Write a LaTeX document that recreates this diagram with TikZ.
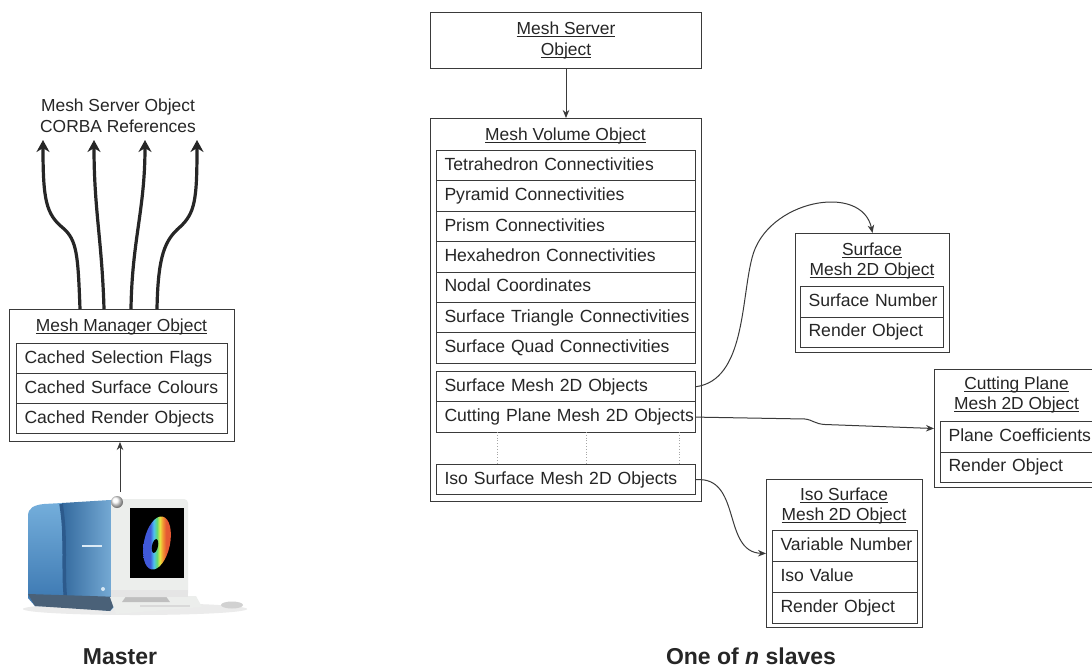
\documentclass[tikz,border=0pt]{standalone}
\usepackage{fontspec}
\setmainfont{Liberation Sans}
\usetikzlibrary{arrows.meta,shapes.geometric}

\definecolor{ink}{HTML}{262626}
\definecolor{edge}{HTML}{3A3A3A}
\definecolor{towerdark}{HTML}{3A76B0}
\definecolor{towerlight}{HTML}{74AEDB}
\definecolor{seam}{HTML}{2C5A8C}
\definecolor{towerbase}{HTML}{4A6178}
\definecolor{casing}{HTML}{ECEEEC}

% underline sitting just below the baseline
\newcommand\ulin[1]{\setbox0\hbox{#1}\rlap{\rule[-2.6pt]{\wd0}{0.9pt}}\box0}

% colour ramp of the rendered surface on the screen
\pgfdeclarehorizontalshading{rainbow}{100bp}{%
  rgb(0bp)=(0.25,0.35,0.85); rgb(38bp)=(0.25,0.35,0.85);
  rgb(44bp)=(0.30,0.75,0.95); rgb(50bp)=(0.40,0.85,0.45);
  rgb(55bp)=(0.90,0.90,0.25); rgb(60bp)=(0.95,0.60,0.20);
  rgb(66bp)=(0.90,0.35,0.20); rgb(100bp)=(0.90,0.35,0.20)}

\begin{document}
\begin{tikzpicture}[x=1pt,y=-1pt,
  every node/.style={text=ink, font=\fontsize{17.4}{20.5}\selectfont},
  outer/.style={draw=edge, line width=1pt, anchor=north west, inner sep=0pt},
  rowbox/.style={draw=edge, line width=1pt, anchor=north west, inner xsep=8pt,
    inner ysep=0pt, align=left, text height=12.6pt, text depth=3.6pt,
    font=\fontsize{17.6}{20.5}\selectfont},
  title/.style={align=center, inner sep=0pt},
  conn/.style={draw=edge, line width=1pt, -{Stealth[length=8pt,width=6.5pt]}},
  corba/.style={draw=ink, line width=3.2pt, -{Stealth[length=12pt,width=13pt]}},
  caption/.style={font=\fontsize{23}{26}\selectfont\bfseries, inner sep=0pt, anchor=base},
  dots/.style={draw=gray!70, line width=0.8pt, dotted}]

\clip (0,0) rectangle (1092,669);
\fill[white] (0,0) rectangle (1092,669);

% ---------------- master side ----------------
\node[title] (refs) at (118,116) {Mesh Server Object\\CORBA References};

\node[outer, minimum width=225pt, minimum height=132pt] (mgr) at (9,309) {};
\node[title] (mgrtitle) at (121.5,327) {\ulin{Mesh Manager Object}};
\node[rowbox, text width=195pt, minimum height=30pt] (flags) at (16,343) {\mbox{Cached Selection Flags}};
\node[rowbox, text width=195pt, minimum height=30pt] (colours) at (16,373) {\mbox{Cached Surface Colours}};
\node[rowbox, text width=195pt, minimum height=30pt] (render) at (16,403) {\mbox{Cached Render Objects}};

% CORBA reference arrows leaving the manager
\coordinate (m1) at (80,309);
\coordinate (m2) at (104,309);
\coordinate (m3) at (131,309);
\coordinate (m4) at (157,309);
\coordinate (r1) at (43,140);
\coordinate (r2) at (94,140);
\coordinate (r3) at (145,140);
\coordinate (r4) at (197,140);
\draw[corba] (m1) .. controls (78,255) and (77,240) .. (63,228)
                  .. controls (46,214) and (43,200) .. (r1);
\draw[corba] (m2) .. controls (102,240) and (94,210) .. (r2);
\draw[corba] (m3) .. controls (132,240) and (145,210) .. (r3);
\draw[corba] (m4) .. controls (158,255) and (165,240) .. (180,227)
                  .. controls (195,213) and (197,200) .. (r4);

% workstation
\fill[black!8] (135,609) ellipse (112pt and 6pt);
% tower: side panel and front panel
\shade[top color=towerlight, bottom color=towerdark]
  (28,516) .. controls (28,508) and (34,505) .. (44,504) -- (62,503)
  -- (64,606) -- (35,606) -- (28,598) -- cycle;
\shade[left color=towerdark!90!black, right color=towerlight!90!white]
  (62,503) -- (110,500) .. controls (116,500) and (120,504) .. (120,510)
  -- (121,600) -- (110,611) -- (64,606) -- cycle;
\draw[seam, line width=3.5pt] (61,504) .. controls (67,540) and (62,570) .. (66,603);
\fill[towerbase] (28,594) -- (121,597) -- (110,611) -- (35,606) -- cycle;
\fill[white!75!towerlight] (82,545) rectangle (102,547);
\fill[white!70!towerlight] (103,589) circle (2pt);

% keyboard, mouse, monitor
\fill[casing] (110,597) -- (196,596) -- (202,607) -- (116,614) -- cycle;
\fill[black!15] (140,605) rectangle (190,607);
\fill[black!18] (232,605) ellipse (11pt and 3.5pt);
\fill[black!25] (127,595) -- (165,595) -- (170,602) -- (122,602) -- cycle;
\fill[casing, rounded corners=4pt] (111,499) rectangle (188,597);
\fill[black!10] (111,590) rectangle (188,597);
\fill[black] (130,508) rectangle (184,578);
\begin{scope}
  \clip[rotate around={-12:(157,543)}] (157,543) ellipse (13pt and 27pt);
  \shade[shading=rainbow] (143,514) rectangle (171,572);
\end{scope}
\fill[black, rotate around={-12:(155,546)}] (155,546) ellipse (3pt and 7pt);
\shade[ball color=white] (117,502) circle (6pt);

\coordinate (pc) at (120,492);
\draw[conn] (pc) -- (pc |- mgr.south);

\node[caption] (master) at (120,664) {Master};

% ---------------- slave side ----------------
\node[outer, minimum width=271pt, minimum height=56pt, align=center] (server) at (430,12)
  {\ulin{Mesh Server}\\\ulin{Object}};

\node[outer, minimum width=271pt, minimum height=383pt] (volume) at (430,118) {};
\node[title] (voltitle) at (565.5,136) {\ulin{Mesh Volume Object}};
\draw[conn] (server.south) -- (volume.north);

\begin{scope}[every node/.append style={rowbox, text width=243pt, minimum height=30.4pt}]
  \node (tet)   at (436,150)   {\mbox{Tetrahedron Connectivities}};
  \node (pyr)   at (436,180.4) {\mbox{Pyramid Connectivities}};
  \node (prism) at (436,210.8) {\mbox{Prism Connectivities}};
  \node (hex)   at (436,241.2) {\mbox{Hexahedron Connectivities}};
  \node (nodal) at (436,271.6) {\mbox{Nodal Coordinates}};
  \node (tri)   at (436,302)   {\mbox{Surface Triangle Connectivities}};
  \node (quad)  at (436,332.4) {\mbox{Surface Quad Connectivities}};
  \node (surf)  at (436,371)   {\mbox{Surface Mesh 2D Objects}};
  \node (cut)   at (436,401.4) {\mbox{Cutting Plane Mesh 2D Objects}};
  \node (iso)   at (436,464)   {\mbox{Iso Surface Mesh 2D Objects}};
\end{scope}

\draw[dots] (497,432) -- (497,464);
\draw[dots] (586,432) -- (586,464);
\draw[dots] (679,432) -- (679,464);

% surface mesh object
\node[outer, minimum width=154pt, minimum height=119pt] (sbox) at (795,233) {};
\node[title] (stitle) at (872,261) {\ulin{Surface}\\\ulin{Mesh 2D Object}};
\node[rowbox, text width=127pt, minimum height=30.5pt] (snum) at (800,286) {\mbox{Surface Number}};
\node[rowbox, text width=127pt, minimum height=30.5pt] (srender) at (800,316.5) {\mbox{Render Object}};

% cutting plane object
\node[outer, minimum width=166pt, minimum height=118pt] (cbox) at (934,369) {};
\node[title] (ctitle) at (1016.5,395) {\ulin{Cutting Plane}\\\ulin{Mesh 2D Object}};
\node[rowbox, text width=140pt, minimum height=30.5pt] (coef) at (940,421) {\mbox{Plane Coefficients}};
\node[rowbox, text width=140pt, minimum height=30.5pt] (crender) at (940,451.5) {\mbox{Render Object}};

% iso surface object
\node[outer, minimum width=156pt, minimum height=148pt] (ibox) at (766,479) {};
\node[title] (ititle) at (844,506) {\ulin{Iso Surface}\\\ulin{Mesh 2D Object}};
\node[rowbox, text width=129pt, minimum height=31pt] (var) at (772,530) {\mbox{Variable Number}};
\node[rowbox, text width=129pt, minimum height=31pt] (isoval) at (772,561) {\mbox{Iso Value}};
\node[rowbox, text width=129pt, minimum height=31pt] (irender) at (772,592) {\mbox{Render Object}};

% links from the volume to its 2D objects
\draw[conn] (surf.east) .. controls (745,380) and (741,300) .. (752,258)
            .. controls (766,200) and (862,182) .. (sbox.north);
\draw[conn] (cut.east) -- (805,419) .. controls (813,420) and (815,424) .. (825,424.5)
            -- (cbox.west);
\draw[conn] (iso.east) .. controls (742,476) and (722,552) .. (ibox.west);

\node[caption] (slaves) at (751,664) {One of \textit{n} slaves};

\end{tikzpicture}
\end{document}
